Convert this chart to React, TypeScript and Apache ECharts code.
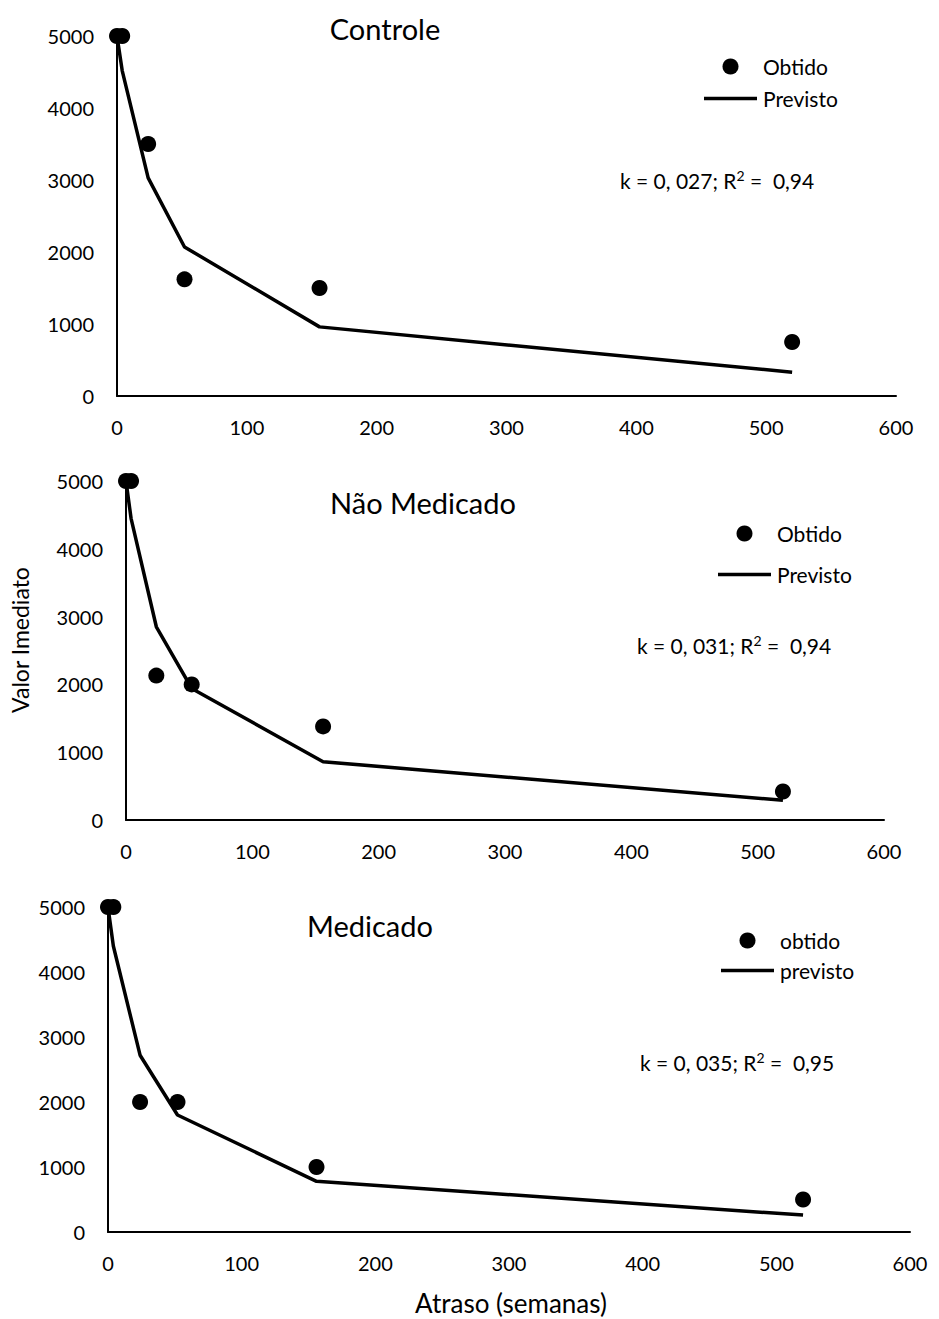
import React, { useEffect, useRef } from "react";
import * as echarts from "echarts";

const weeks = [0, 4, 24, 52, 156, 520];

const controleObtido = [5000, 5000, 3500, 1620, 1500, 750];
const controlePrevisto = [5000, 4520, 3030, 2070, 960, 330];

const naoMedObtido = [5000, 5000, 2130, 2000, 1380, 420];
const naoMedPrevisto = [5000, 4450, 2850, 1940, 860, 290];

const medObtido = [5000, 5000, 2000, 2000, 1000, 500];
const medPrevisto = [5000, 4400, 2720, 1800, 780, 260];

const xTicks = [0, 100, 200, 300, 400, 500, 600];
const yTicks = [0, 1000, 2000, 3000, 4000, 5000];

const panelTitles = ["Controle", "Não Medicado", "Medicado"];
const kTexts = [
  "k = 0, 027; R{sup|2} =  0,94",
  "k = 0, 031; R{sup|2} =  0,94",
  "k = 0, 035; R{sup|2} =  0,95",
];

const FONT = "Lato, 'Open Sans', sans-serif";

const pair = (xs: number[], ys: number[]) => xs.map((x, i) => [x, ys[i]]);

export default function App() {
  const ref = useRef<HTMLDivElement>(null);

  useEffect(() => {
    if (!ref.current) return;
    const chart = echarts.init(ref.current, null, { renderer: "svg" });

    const grids = [
      { left: 117, top: 36, width: 779, height: 360 },
      { left: 126, top: 481, width: 758, height: 339 },
      { left: 108, top: 907, width: 802, height: 325 },
    ];

    const xAxes = grids.map((_, i) => ({
      type: "value",
      gridIndex: i,
      min: xTicks[0],
      max: xTicks[xTicks.length - 1],
      interval: 100,
      axisLine: { show: true, onZero: false, lineStyle: { color: "#000", width: 2 } },
      axisTick: { show: false },
      splitLine: { show: false },
      axisLabel: {
        color: "#000",
        fontSize: 20,
        fontFamily: FONT,
        margin: 21,
        formatter: (v: number) => String(v),
      },
    }));

    const yAxes = grids.map((_, i) => ({
      type: "value",
      gridIndex: i,
      min: yTicks[0],
      max: yTicks[yTicks.length - 1],
      interval: 1000,
      axisLine: { show: true, onZero: false, lineStyle: { color: "#000", width: 2 } },
      axisTick: { show: false },
      splitLine: { show: false },
      axisLabel: {
        color: "#000",
        fontSize: 20,
        fontFamily: FONT,
        margin: 23,
        formatter: (v: number) => String(v),
      },
    }));

    const obtido = [controleObtido, naoMedObtido, medObtido];
    const previsto = [controlePrevisto, naoMedPrevisto, medPrevisto];
    const names = [
      ["Obtido", "Previsto"],
      ["Obtido", "Previsto"],
      ["obtido", "previsto"],
    ];

    const series: any[] = [];
    for (let i = 0; i < 3; i++) {
      series.push({
        type: "line",
        name: names[i][1],
        xAxisIndex: i,
        yAxisIndex: i,
        data: pair(weeks, previsto[i]),
        symbol: "none",
        lineStyle: { color: "#000", width: 3.5 },
        itemStyle: { color: "#000" },
        z: 2,
      });
      series.push({
        type: "scatter",
        name: names[i][0],
        xAxisIndex: i,
        yAxisIndex: i,
        data: pair(weeks, obtido[i]),
        symbol: "circle",
        symbolSize: 16,
        itemStyle: { color: "#000", opacity: 1 },
        z: 3,
      });
    }

    const legendPos = [
      { left: 704, top: 56, itemGap: 11 },
      { left: 718, top: 523, itemGap: 20 },
      { left: 721, top: 930, itemGap: 9 },
    ];

    const legends = legendPos.map((p, i) => ({
      orient: "vertical",
      left: p.left,
      top: p.top,
      padding: 0,
      itemGap: p.itemGap,
      itemWidth: 53,
      itemHeight: 16,
      selectedMode: false,
      textStyle: {
        color: "#000",
        fontSize: 21,
        fontFamily: FONT,
        padding: [0, 0, 0, 1],
      },
      data: [
        { name: names[i][0], icon: "circle", itemStyle: { color: "#000", opacity: 1 } },
        { name: names[i][1], icon: "path://M0,0L53,0L53,3.5L0,3.5Z", itemStyle: { color: "#000" } },
      ],
    }));

    const titlePos = [
      { x: 385, y: 28 },
      { x: 423, y: 502 },
      { x: 370, y: 925 },
    ];
    const kPos = [
      { x: 620, y: 180 },
      { x: 637, y: 645 },
      { x: 640, y: 1062 },
    ];

    const graphics: any[] = [];
    for (let i = 0; i < 3; i++) {
      graphics.push({
        type: "text",
        x: titlePos[i].x,
        y: titlePos[i].y,
        style: {
          text: panelTitles[i],
          fill: "#000",
          font: `29px ${FONT}`,
          align: "center",
          verticalAlign: "middle",
        },
      });
      graphics.push({
        type: "text",
        x: kPos[i].x,
        y: kPos[i].y,
        style: {
          text: kTexts[i],
          fill: "#000",
          fontSize: 21,
          fontFamily: FONT,
          align: "left",
          verticalAlign: "middle",
          rich: {
            sup: { fontSize: 14, fontFamily: FONT, fill: "#000", padding: [0, 0, 9, 0] },
          },
        },
      });
    }
    graphics.push({
      type: "text",
      x: 20,
      y: 640,
      rotation: Math.PI / 2,
      style: {
        text: "Valor Imediato",
        fill: "#000",
        font: `23px ${FONT}`,
        align: "center",
        verticalAlign: "middle",
      },
    });
    graphics.push({
      type: "text",
      x: 511,
      y: 1303,
      style: {
        text: "Atraso (semanas)",
        fill: "#000",
        font: `26px ${FONT}`,
        align: "center",
        verticalAlign: "middle",
      },
    });

    chart.setOption({
      animation: false,
      backgroundColor: "#fff",
      grid: grids,
      xAxis: xAxes,
      yAxis: yAxes,
      legend: legends,
      series,
      graphic: graphics,
    });

    return () => chart.dispose();
  }, []);

  return (
    <div
      ref={ref}
      style={{ position: "absolute", left: 0, top: 0, width: 939, height: 1319 }}
    />
  );
}
